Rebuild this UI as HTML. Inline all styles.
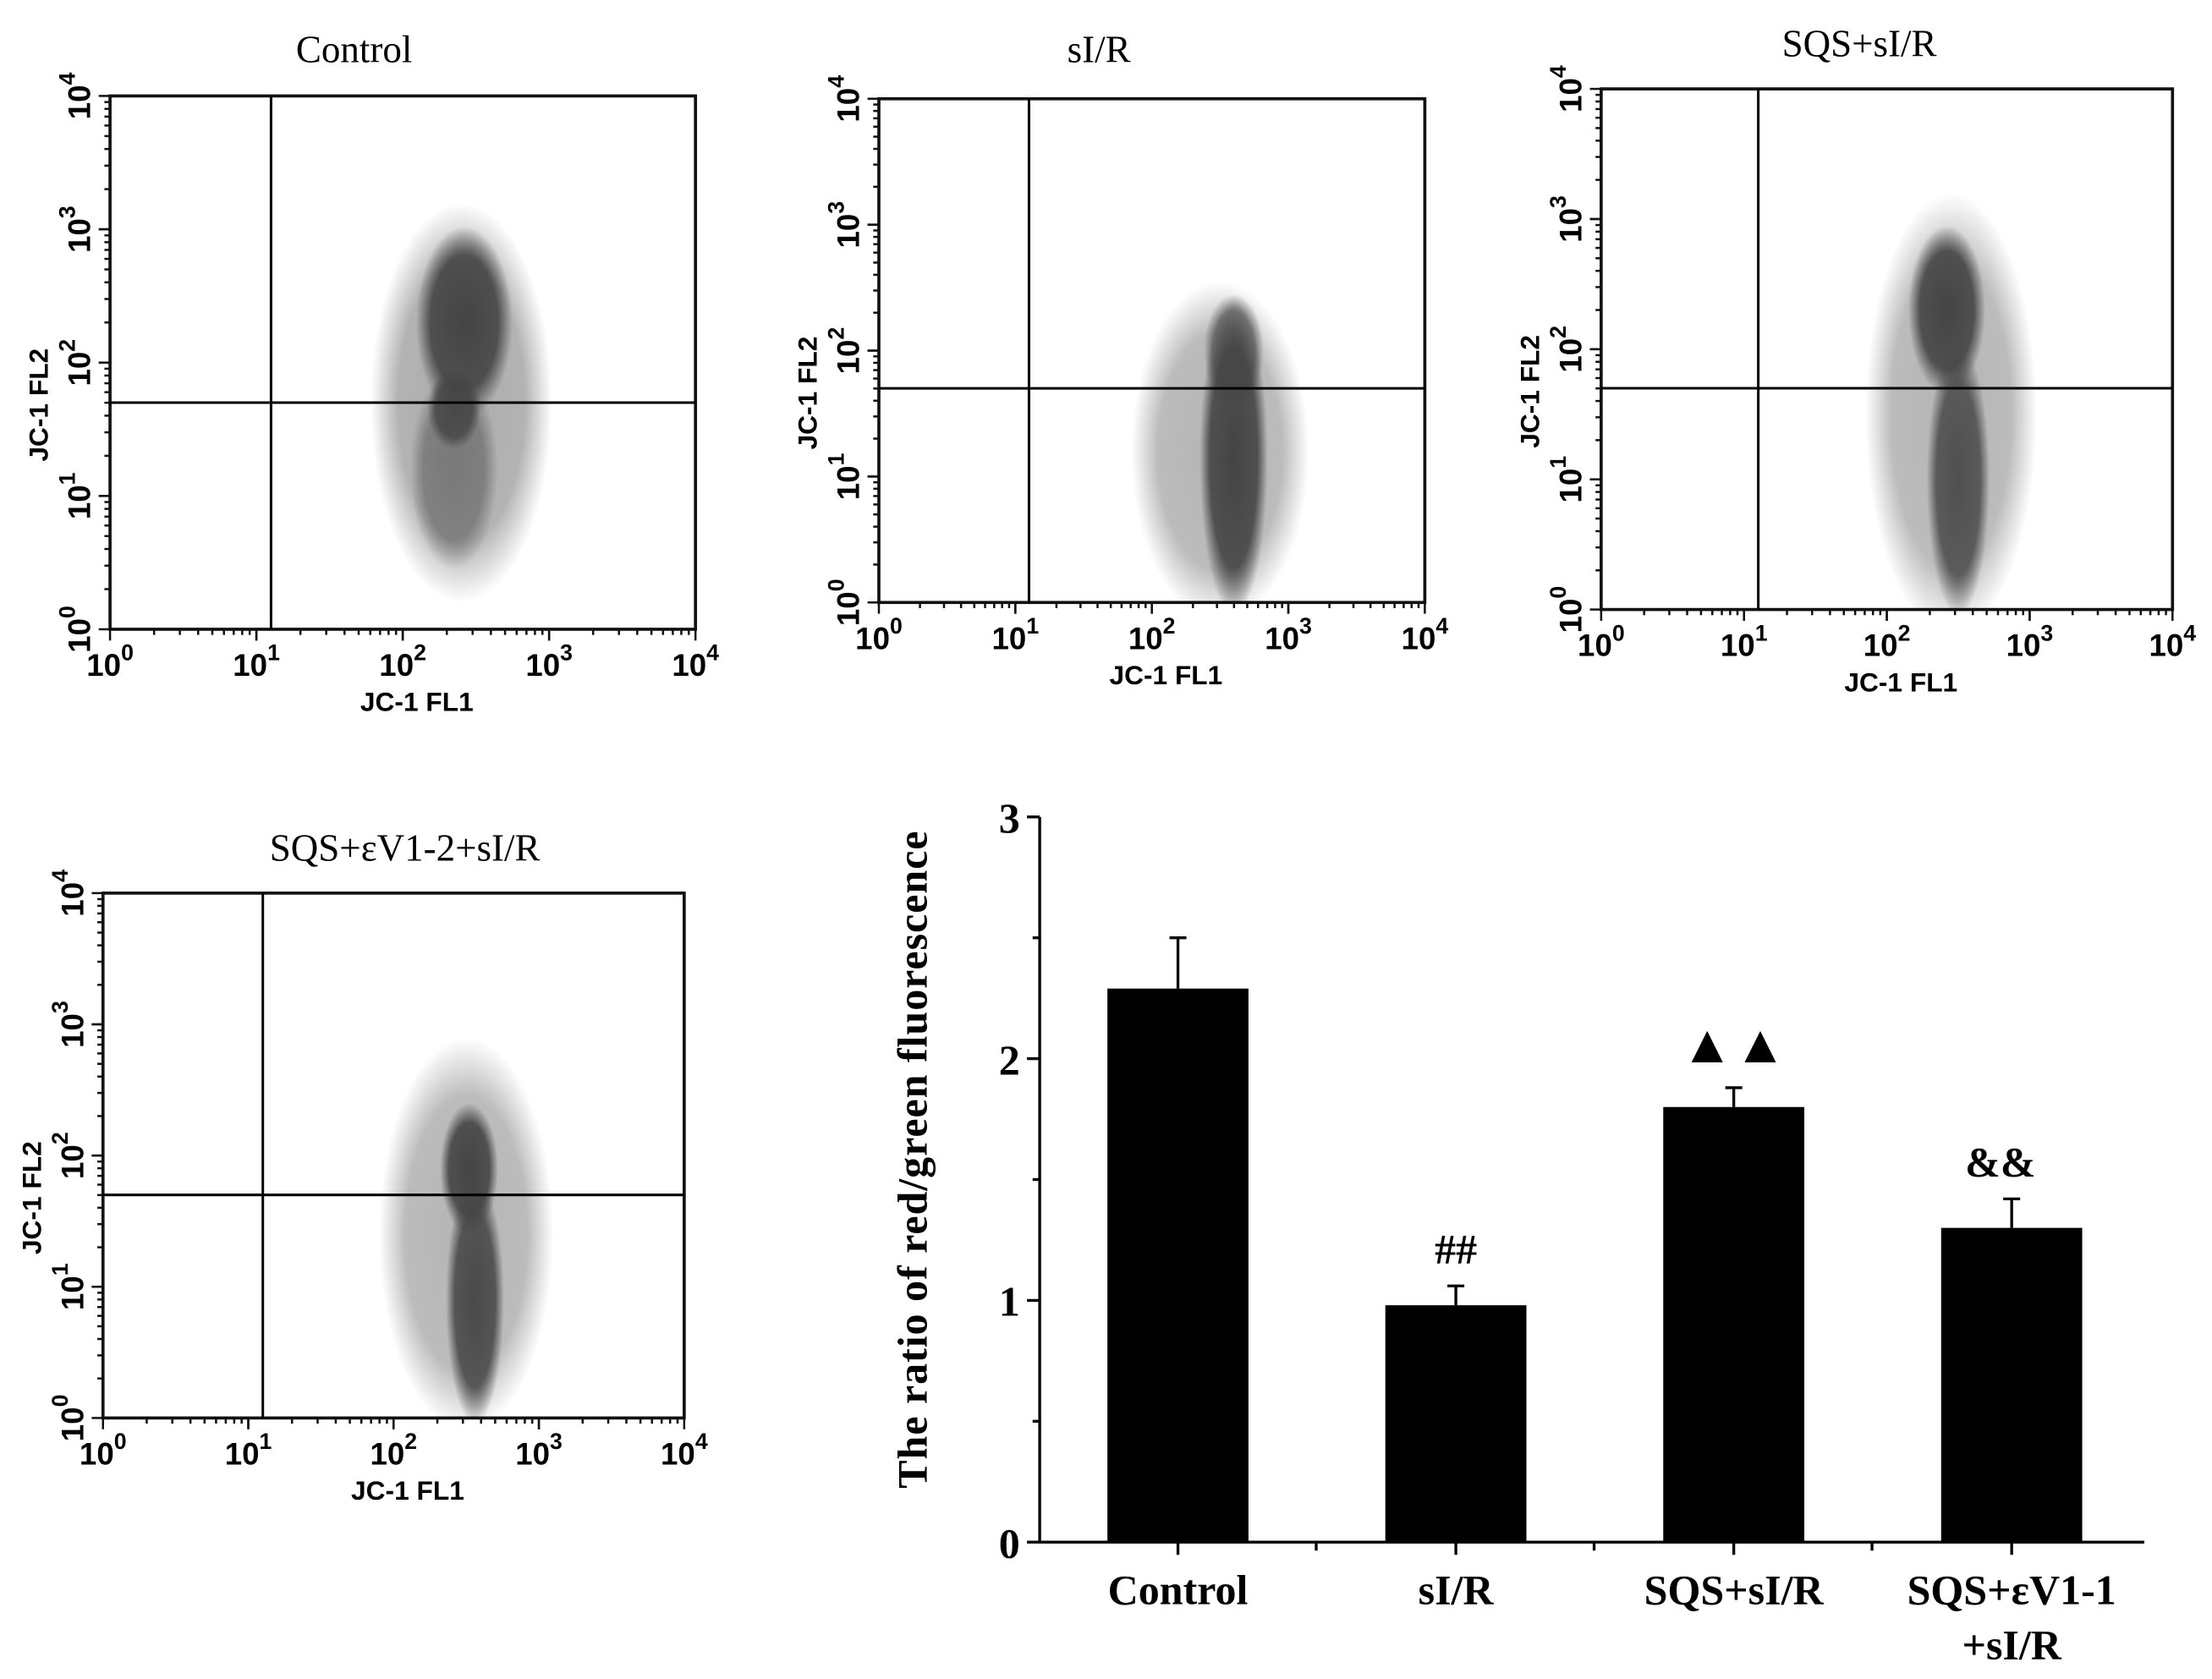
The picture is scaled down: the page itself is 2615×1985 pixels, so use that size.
<!DOCTYPE html>
<html><head><meta charset="utf-8"><style>
html,body{margin:0;padding:0;background:#fff;}
svg{display:block;}
.t{font-family:"Liberation Serif",serif;}
.a{font-family:"Liberation Sans",sans-serif;font-weight:bold;}
</style></head><body>
<svg id="fig" width="2615" height="1985" viewBox="0 0 1568 1190" preserveAspectRatio="none" xmlns="http://www.w3.org/2000/svg">
<rect width="1568" height="1190" fill="#fff"/>
<g id="flows"></g>
<g id="bars"></g>
</svg>
<script>
// ---- flow cytometry panel data ----
const panelTitles = ["Control","sI/R","SQS+sI/R","SQS+\u03b5V1-2+sI/R"];
// cluster blobs: [log10 FL1 center, log10 FL2 center, spread x (decades), spread y (decades), opacity]
const clustersControl = [[2.4,1.7,0.62,1.5,0.45],[2.35,1.2,0.3,0.75,0.5],[2.42,2.3,0.33,0.72,1.0],[2.35,1.65,0.18,0.3,0.9]];
const clustersSIR = [[2.5,1.2,0.65,1.35,0.4],[2.6,1.15,0.25,1.25,1.0],[2.6,2.0,0.22,0.45,0.7]];
const clustersSQS = [[2.45,1.5,0.6,1.7,0.4],[2.5,1.0,0.22,1.05,0.9],[2.42,2.3,0.27,0.65,1.0]];
const clustersEV = [[2.5,1.4,0.6,1.5,0.4],[2.56,0.9,0.2,0.95,0.95],[2.52,1.9,0.2,0.5,1.0]];
const gateFL1 = [1.1,1.1,1.1,1.1];
const gateFL2 = [1.7,1.7,1.7,1.7];
const decadeTicks = [0,1,2,3,4];

// ---- bar chart data ----
const categories = ["Control","sI/R","SQS+sI/R","SQS+\u03b5V1-1"];
const values = [2.29,0.98,1.80,1.30];
const errors = [0.21,0.08,0.08,0.12];
const marks = ["","##","\u25b2\u25b2","&&"];
const yTicks = [0,1,2,3];

const NS="http://www.w3.org/2000/svg";
function mk(tag,attrs,parent,txt){const e=document.createElementNS(NS,tag);for(const k in attrs)e.setAttribute(k,attrs[k]);if(txt!==undefined)e.textContent=txt;parent.appendChild(e);return e;}

const layout=[
 {x0:78,x1:493,y0:68,y1:446,tx:251,ty:44},
 {x0:623,x1:1010,y0:70,y1:427,tx:779,ty:44},
 {x0:1135,x1:1540,y0:63,y1:432,tx:1318,ty:40},
 {x0:73,x1:485,y0:633,y1:1005,tx:287,ty:610}
];
const clusterSets=[clustersControl,clustersSIR,clustersSQS,clustersEV];
const flows=document.getElementById('flows');
layout.forEach((L,i)=>{
  const g=mk('g',{},flows);
  
  
  const sx=v=>L.x0+(L.x1-L.x0)*v/4;
  const sy=v=>L.y1-(L.y1-L.y0)*v/4;
  const t=mk('text',{x:L.tx,y:L.ty,'font-size':27,'text-anchor':'middle',class:'t'},g,panelTitles[i]);
  
  
  const defs=mk('defs',{},g);
  const gr=mk('radialGradient',{id:'rg'+i},defs);
  mk('stop',{offset:'0','stop-color':'#444','stop-opacity':1},gr);
  mk('stop',{offset:'0.7','stop-color':'#444','stop-opacity':0.9},gr);
  mk('stop',{offset:'1','stop-color':'#444','stop-opacity':0},gr);
  const clip=mk('clipPath',{id:'cp'+i},defs);
  mk('rect',{x:L.x0,y:L.y0,width:L.x1-L.x0,height:L.y1-L.y0},clip);
  const cg=mk('g',{'clip-path':'url(#cp'+i+')'},g);
  clusterSets[i].forEach(c=>{
    const e=mk('ellipse',{cx:sx(c[0]),cy:sy(c[1]),rx:(L.x1-L.x0)*c[2]/4,ry:(L.y1-L.y0)*c[3]/4,fill:'url(#rg'+i+')',opacity:c[4]},cg);
    
    
  });
  const b=mk('rect',{x:L.x0,y:L.y0,width:L.x1-L.x0,height:L.y1-L.y0,fill:'none',stroke:'#111','stroke-width':2.2},g);
  
  
  const gv=mk('line',{x1:sx(gateFL1[i]),x2:sx(gateFL1[i]),y1:L.y0,y2:L.y1,stroke:'#000','stroke-width':1.8},g);
  
  
  const gh=mk('line',{x1:L.x0,x2:L.x1,y1:sy(gateFL2[i]),y2:sy(gateFL2[i]),stroke:'#000','stroke-width':1.8},g);
  
  
  for(let d=0;d<4;d++){for(let m=1;m<=10;m++){const v=d+Math.log10(m);const len=(m===1||m===10)?8:4;
    mk('line',{x1:sx(v),x2:sx(v),y1:L.y1,y2:L.y1+len,stroke:'#111','stroke-width':1.5},g);
    mk('line',{x1:L.x0,x2:L.x0-len,y1:sy(v),y2:sy(v),stroke:'#111','stroke-width':1.5},g);}}
  decadeTicks.forEach(d=>{
    const tx=mk('text',{x:sx(d),y:L.y1+33,'font-size':22,'text-anchor':'middle',class:'a'},g);
    
    
    mk('tspan',{},tx,'10');mk('tspan',{dy:-11,'font-size':16},tx,String(d));
    const ty=mk('text',{transform:`translate(${L.x0-14},${sy(d)}) rotate(-90)`,'font-size':22,'text-anchor':'middle',class:'a'},g);
    
    
    mk('tspan',{},ty,'10');mk('tspan',{dy:-11,'font-size':16},ty,String(d));
  });
  const xt=mk('text',{x:(L.x0+L.x1)/2+10,y:L.y1+58,'font-size':19,'text-anchor':'middle',class:'a'},g,'JC-1 FL1');
  
  
  const yt=mk('text',{transform:`translate(${L.x0-44},${(L.y0+L.y1)/2+30}) rotate(-90)`,'font-size':19,'text-anchor':'middle',class:'a'},g,'JC-1 FL2');
  
  
});

// ---- bar chart ----
const bars=document.getElementById('bars');
const AX=737, Y0=1093, Y3=579, XR=1520;
const y=v=>Y0-(Y0-Y3)*v/3;
const xc=i=>835+i*197;
mk('line',{x1:AX,x2:AX,y1:Y3,y2:Y0,stroke:'#000','stroke-width':2},bars);
mk('line',{x1:AX,x2:XR,y1:Y0,y2:Y0,stroke:'#000','stroke-width':2},bars);
for(let v=0;v<=3;v+=0.5){mk('line',{x1:AX,x2:AX-(v%1===0?9:5),y1:y(v),y2:y(v),stroke:'#000','stroke-width':2},bars);}
yTicks.forEach(v=>{const t=mk('text',{x:AX-14,y:y(v)+11,'font-size':30,'text-anchor':'end','font-weight':'bold',class:'t'},bars,String(v));
  
  });
const yat=mk('text',{transform:`translate(657,822) rotate(-90)`,'font-size':30,'text-anchor':'middle','font-weight':'bold',class:'t',textLength:466},bars,'The ratio of red/green fluorescence');


categories.forEach((c,i)=>{
  const cx=xc(i);
  mk('line',{x1:cx,x2:cx,y1:Y0,y2:Y0+9,stroke:'#000','stroke-width':2},bars);
  if(i<3) mk('line',{x1:cx+98,x2:cx+98,y1:Y0,y2:Y0+6,stroke:'#000','stroke-width':2},bars);
  const top=y(values[i]+errors[i]);
  const el=mk('line',{x1:cx,x2:cx,y1:top,y2:y(values[i]),stroke:'#000','stroke-width':2},bars);
  
  
  mk('line',{x1:cx-6,x2:cx+6,y1:top,y2:top,stroke:'#000','stroke-width':2},bars);
  const r=mk('rect',{x:cx-50,y:y(values[i]),width:100,height:Y0-y(values[i]),fill:'#000'},bars);
  
  
  const lb=mk('text',{x:cx,y:1137,'font-size':30,'text-anchor':'middle','font-weight':'bold',class:'t'},bars,c);
  
  
  if(marks[i]){const m=mk('text',{x:cx+(i===3?-8:0),y:top-(i===2?18:16),'font-size':i===2?38:30,'text-anchor':'middle','font-weight':'bold',class:'t'},bars,marks[i]);
    
    }
});
const l2=mk('text',{x:xc(3),y:1176,'font-size':30,'text-anchor':'middle','font-weight':'bold',class:'t'},bars,'+sI/R');


</script>
</body></html>
